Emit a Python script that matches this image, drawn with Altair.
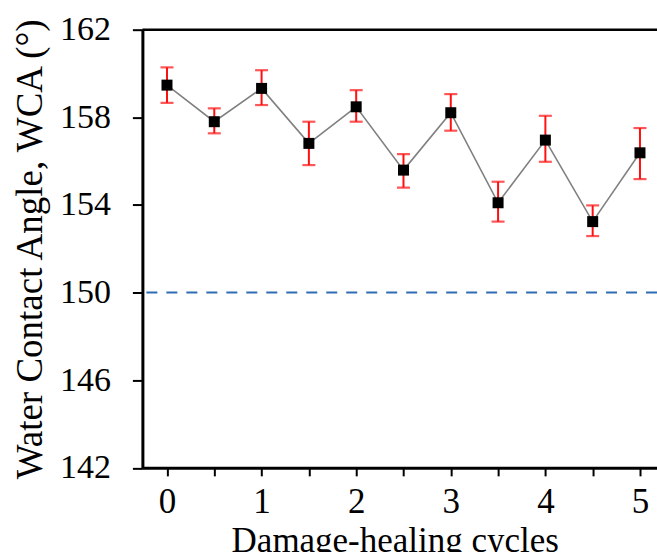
import altair as alt
import pandas as pd

cycles = [0, 0.5, 1, 1.5, 2, 2.5, 3, 3.5, 4, 4.5, 5]
wca = [159.47, 157.80, 159.32, 156.81, 158.48, 155.59, 158.21, 154.10, 156.96, 153.24, 156.38]
wca_hi = [160.28, 158.41, 160.15, 157.80, 159.24, 156.32, 159.06, 155.06, 158.07, 153.98, 157.51]
wca_lo = [158.66, 157.27, 158.56, 155.82, 157.80, 154.79, 157.39, 153.24, 155.97, 152.58, 155.18]
x_ticks = [0, 0.5, 1, 1.5, 2, 2.5, 3, 3.5, 4, 4.5, 5]
y_ticks = [142, 146, 150, 154, 158, 162]
threshold = 150

df = pd.DataFrame({"c": cycles, "w": wca, "hi": wca_hi, "lo": wca_lo})

W, H = 515, 438.5
FONT = "Liberation Serif"

xscale = alt.Scale(domain=[-0.26, 5.18], nice=False, zero=False)
yscale = alt.Scale(domain=[142, 162], nice=False, zero=False)

xaxis = alt.Axis(
    values=x_ticks,
    labelExpr="datum.value % 1 == 0 ? format(datum.value, 'd') : ''",
    title="Damage-healing cycles",
    grid=False,
    domainColor="black", domainWidth=3,
    tickColor="black", tickWidth=2, tickSize=8,
    labelFont=FONT, labelFontSize=35, labelColor="black", labelPadding=9,
    titleFont=FONT, titleFontSize=35, titleFontWeight="normal", titleColor="black",
    titleX=252.5, titleY=84, titleBaseline="alphabetic", titleAlign="center",
)
yaxis = alt.Axis(
    values=y_ticks,
    title="Water Contact Angle, WCA (°)",
    grid=False,
    domainColor="black", domainWidth=3,
    tickColor="black", tickWidth=2, tickSize=10,
    labelFont=FONT, labelFontSize=34, labelColor="black", labelPadding=22,
    titleFont=FONT, titleFontSize=37, titleFontWeight="normal", titleColor="black",
    titleX=-112, titleY=219.25, titleAngle=270, titleBaseline="middle", titleAlign="center",
)

base = alt.Chart(df)

thr = alt.Chart(pd.DataFrame({"t": [threshold]})).mark_rule(
    color="#2e6db4", strokeWidth=2, strokeDash=[11, 9]
).encode(y=alt.Y("t:Q", scale=yscale, axis=yaxis))

top = alt.Chart(pd.DataFrame({"t": [162]})).mark_rule(color="black", strokeWidth=2.5).encode(
    y=alt.Y("t:Q", scale=yscale), x=alt.value(0), x2=alt.value(W)
)

line = base.mark_line(color="#808080", strokeWidth=1.6).encode(
    x=alt.X("c:Q", scale=xscale, axis=xaxis), y=alt.Y("w:Q", scale=yscale)
)
bars = base.mark_rule(color="#ff1010", strokeWidth=2).encode(
    x="c:Q", y="lo:Q", y2="hi:Q"
)
cap_hi = base.mark_tick(color="#ff1010", thickness=2.2, size=13, orient="horizontal").encode(
    x="c:Q", y="hi:Q"
)
cap_lo = base.mark_tick(color="#ff1010", thickness=2.2, size=13, orient="horizontal").encode(
    x="c:Q", y="lo:Q"
)
pts = base.mark_square(color="black", filled=True, opacity=1, size=121).encode(
    x="c:Q", y="w:Q"
)

chart = alt.layer(thr, top, line, bars, cap_hi, cap_lo, pts).properties(
    width=W, height=H,
    autosize=alt.AutoSizeParams(type="none"),
    padding={"left": 142.5, "top": 29.5, "right": 0, "bottom": 84},
).configure_view(stroke=None).configure(background="white")

chart.save("out.html", embed_options={"renderer": "svg", "actions": False})
